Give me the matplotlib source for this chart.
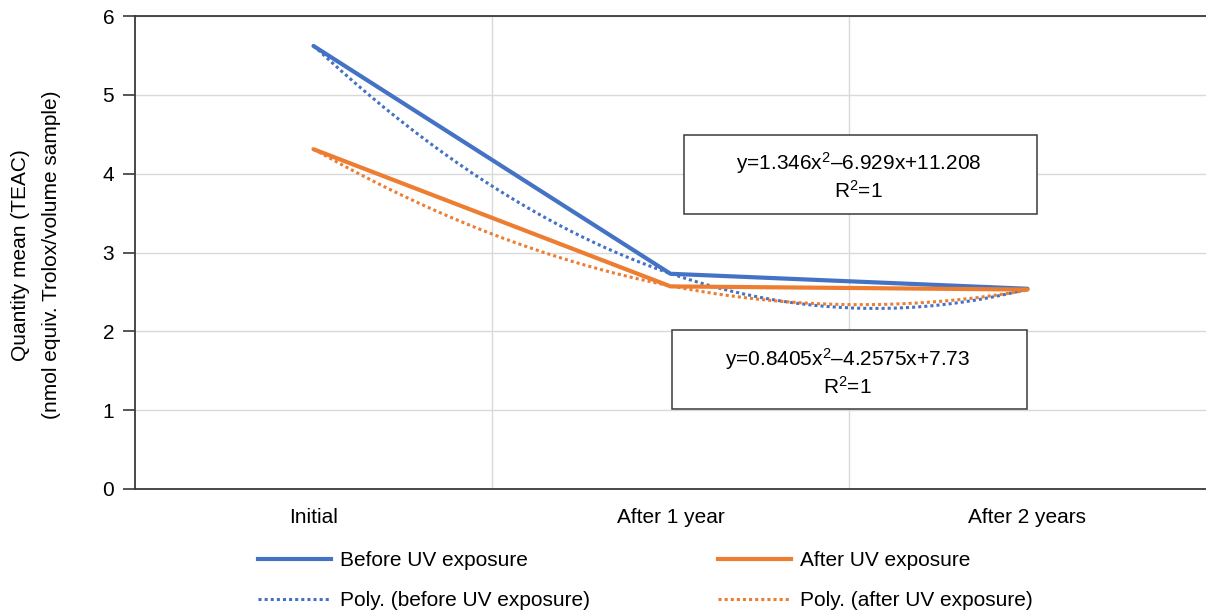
import numpy as np
import matplotlib
matplotlib.use("Agg")
import matplotlib.pyplot as plt
from matplotlib.patches import Rectangle
from matplotlib.lines import Line2D

plt.rcParams['font.family'] = ['Liberation Sans', 'DejaVu Sans']
plt.rcParams['mathtext.fontset'] = 'custom'
plt.rcParams['mathtext.rm'] = 'Liberation Sans'
plt.rcParams['mathtext.it'] = 'Liberation Sans'

categories = ["Initial", "After 1 year", "After 2 years"]
before_uv = [5.62, 2.73, 2.54]
after_uv = [4.31, 2.57, 2.53]
# quadratic trendline coefficients (a, b, c) as printed on the chart
poly_before = [1.346, -6.929, 11.208]
poly_after = [0.8405, -4.2575, 7.73]
eq_before = "y=1.346x$^{2}$\u20136.929x+11.208\nR$^{2}$=1"
eq_after = "y=0.8405x$^{2}$\u20134.2575x+7.73\nR$^{2}$=1"

blue = "#4472C4"
orange = "#ED7D31"
spine = "#3a3a3a"
fs = 15
dots = (0, (1, 1))

fig = plt.figure(figsize=(12.06, 6.14), dpi=100)
ax = fig.add_axes([135 / 1206, 1 - 489 / 614, 1 - 135 / 1206, (489 - 16) / 614])

x = np.arange(len(categories)) + 0.5
ax.plot(x, before_uv, color=blue, lw=3, solid_capstyle='round', zorder=3)
ax.plot(x, after_uv, color=orange, lw=3, solid_capstyle='round', zorder=3)

t = np.linspace(1, 3, 200)
ax.plot(t - 0.5, np.polyval(poly_before, t), color=blue, lw=2.2,
        linestyle=dots, dash_capstyle='butt', zorder=2)
ax.plot(t - 0.5, np.polyval(poly_after, t), color=orange, lw=2.2,
        linestyle=dots, dash_capstyle='butt', zorder=2)

ax.set_xlim(0, 3)
ax.set_ylim(0, 6)
ax.set_yticks(range(0, 7))
ax.set_xticks(x)
ax.set_xticklabels(categories)
ax.set_xticks([1, 2], minor=True)
ax.grid(True, axis='y', color='#d9d9d9', lw=1)
ax.grid(True, axis='x', which='minor', color='#d9d9d9', lw=1)
ax.set_axisbelow(True)
ax.tick_params(axis='y', length=9, width=1.2, color=spine, pad=6, labelsize=fs)
ax.tick_params(axis='x', which='both', length=0, pad=14, labelsize=fs)
for s in ['left', 'bottom', 'top']:
    ax.spines[s].set_color(spine)
    ax.spines[s].set_linewidth(1.3)
ax.spines['right'].set_visible(False)

fig.text(36 / 1206, 1 - 255 / 614,
         "Quantity mean (TEAC)\n(nmol equiv. Trolox/volume sample)",
         rotation=90, ha='center', va='center', fontsize=fs, linespacing=1.75)

# trendline equation boxes
for (x0, y0, x1, y1), txt, dy in [((684, 135, 1037, 214), eq_before, 1.5),
                                  ((672, 330, 1027, 409), eq_after, 2.5)]:
    fig.patches.append(Rectangle((x0 / 1206, 1 - y1 / 614), (x1 - x0) / 1206, (y1 - y0) / 614,
                                 transform=fig.transFigure, fill=True, facecolor='white',
                                 edgecolor=spine, lw=1.1, zorder=5))
    fig.text((x0 + x1) / 2 / 1206 - 2 / 1206, 1 - ((y0 + y1) / 2 + dy) / 614, txt,
             ha='center', va='center', fontsize=fs, linespacing=1.2, zorder=6)

h_before = Line2D([], [], color=blue, lw=3)
h_after = Line2D([], [], color=orange, lw=3)
h_pb = Line2D([], [], color=blue, lw=2.2, linestyle=dots, dash_capstyle='butt')
h_pa = Line2D([], [], color=orange, lw=2.2, linestyle=dots, dash_capstyle='butt')

for hs, labels, x0 in [([h_before, h_pb], ["Before UV exposure", "Poly. (before UV exposure)"], 258),
                       ([h_after, h_pa], ["After UV exposure", "Poly. (after UV exposure)"], 718)]:
    fig.legend(hs, labels, loc='upper left', bbox_to_anchor=(x0 / 1206, 1 - 551 / 614),
               frameon=False, fontsize=fs, handlelength=3.5, handletextpad=0.45,
               labelspacing=1.0, borderpad=0, borderaxespad=0)

fig.savefig("out.png", dpi=100)
